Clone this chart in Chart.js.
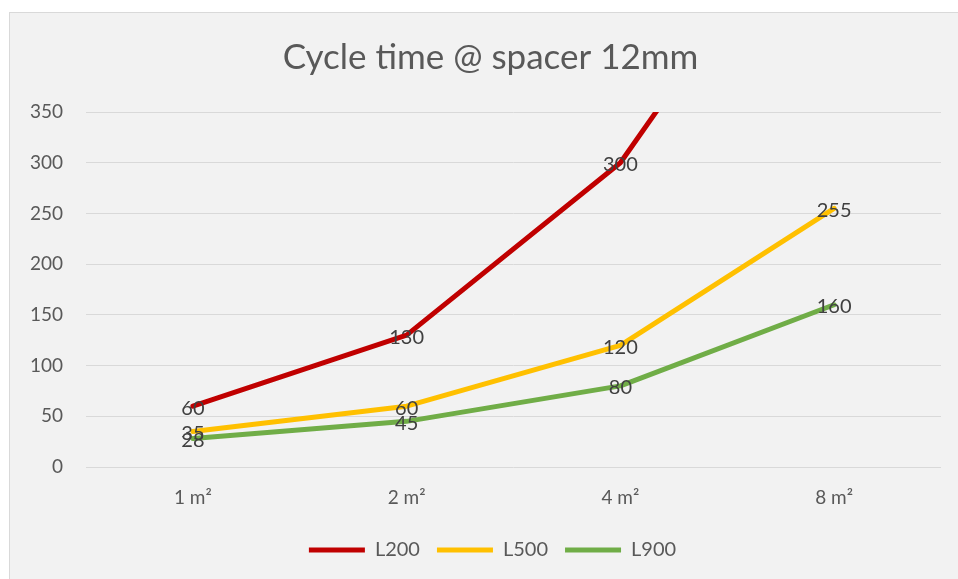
<!DOCTYPE html>
<html>
<head>
<meta charset="utf-8">
<script src="https://cdn.jsdelivr.net/npm/chart.js@4.4.0/dist/chart.umd.min.js"></script>
<style>
    html, body { margin: 0; padding: 0; background: #ffffff; overflow: hidden; }
    #frame {
        position: absolute; left: 9px; top: 12px; width: 948px; height: 566px;
        background: #f2f2f2; border-left: 1px solid #d9d9d9; border-top: 1px solid #d9d9d9;
    }
    #frame canvas { display: block; }
</style>
</head>
<body>
<div id="frame"><canvas id="cycleChart" width="948" height="566"></canvas></div>
<script>
// data
const categories = ['1 m²', '2 m²', '4 m²', '8 m²'];
const l200 = [60, 130, 300, 600];
const l500 = [35, 60, 120, 255];
const l900 = [28, 45, 80, 160];
const yTicks = [0, 50, 100, 150, 200, 250, 300, 350];

const FONT = "Lato, 'Liberation Sans', sans-serif";

// ===== LABELS ON POINTS =====
const pointLabels = {
    id: 'pointLabels',
    afterDatasetsDraw(chart) {
        const ctx = chart.ctx;
        const yMax = chart.scales.y.max;
        ctx.save();
        ctx.font = '20px ' + FONT;
        ctx.fillStyle = '#404040';
        ctx.textAlign = 'center';
        ctx.textBaseline = 'middle';
        chart.data.datasets.forEach((ds, i) => {
            const meta = chart.getDatasetMeta(i);
            meta.data.forEach((pt, j) => {
                if (ds.data[j] > yMax) return;
                ctx.fillText(String(ds.data[j]), pt.x, pt.y + 2);
            });
        });
        ctx.restore();
    }
};

// title and legend sit a bit right of the plot centre (the frame is cut on the right)
const shiftBoxes = {
    id: 'shiftBoxes',
    afterLayout(chart) {
        if (chart.titleBlock) { chart.titleBlock.left += 15; chart.titleBlock.right += 15; }
        if (chart.legend) { chart.legend.left += 17; chart.legend.right += 17; }
    }
};

function lineSet(label, data, color) {
    return {
        label: label,
        data: data,
        borderColor: color,
        backgroundColor: color,
        borderWidth: 5,
        borderCapStyle: 'round',
        borderJoinStyle: 'round',
        pointRadius: 0,
        pointHoverRadius: 0,
        tension: 0,
        fill: false
    };
}

new Chart(document.getElementById('cycleChart'), {
    type: 'line',
    data: {
        labels: categories,
        datasets: [
            lineSet('L200', l200, '#c00000'),
            lineSet('L500', l500, '#ffc000'),
            lineSet('L900', l900, '#70ad47')
        ]
    },
    options: {
        responsive: false,
        animation: false,
        events: [],
        layout: { padding: { left: 0, right: 17, top: 0, bottom: 9 } },
        scales: {
            x: {
                offset: true,
                grid: { display: false },
                border: { display: false },
                ticks: { color: '#595959', font: { family: FONT, size: 19 }, padding: 11 },
                afterFit: s => { s.height = 56; }
            },
            y: {
                min: 0,
                max: 350,
                afterBuildTicks: s => { s.ticks = yTicks.map(v => ({ value: v })); },
                grid: { color: '#d9d9d9', lineWidth: 1, drawTicks: false },
                border: { display: false },
                ticks: { color: '#595959', font: { family: FONT, size: 19 }, padding: 23 },
                afterFit: s => { s.width = 76; }
            }
        },
        plugins: {
            title: {
                display: true,
                text: 'Cycle time @ spacer 12mm',
                color: '#595959',
                font: { family: FONT, size: 35, weight: 'normal' },
                padding: { top: 24, bottom: 33 }
            },
            legend: {
                position: 'bottom',
                labels: {
                    color: '#595959',
                    font: { family: FONT, size: 20 },
                    usePointStyle: true,
                    pointStyle: 'line',
                    pointStyleWidth: 56,
                    boxHeight: 5,
                    padding: 17
                }
            },
            tooltip: { enabled: false }
        }
    },
    plugins: [pointLabels, shiftBoxes]
});
</script>
</body>
</html>
